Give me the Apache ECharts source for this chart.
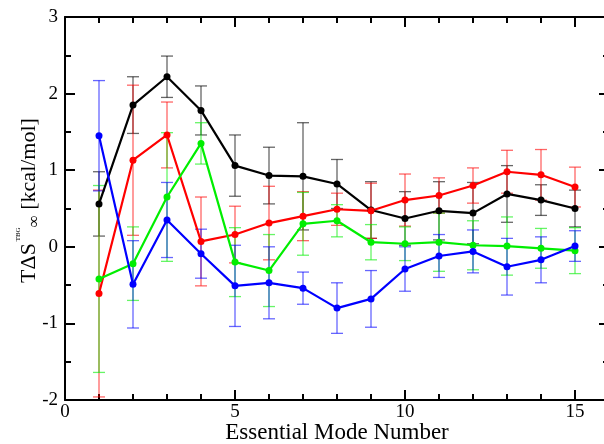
<!DOCTYPE html>
<html>
<head>
<meta charset="utf-8">
<script src="https://cdn.jsdelivr.net/npm/echarts@6/dist/echarts.min.js"></script>
<style>
  html, body { margin: 0; padding: 0; background: #fff; }
  #main { width: 604px; height: 444px; }
</style>
</head>
<body>
<div id="main"></div>
<script>
// mode numbers
var modes = [1, 2, 3, 4, 5, 6, 7, 8, 9, 10, 11, 12, 13, 14, 15];

// values and error bars (kcal/mol)
var blackVal = [0.56, 1.85, 2.22, 1.78, 1.06, 0.93, 0.92, 0.82, 0.48, 0.37, 0.47, 0.44, 0.69, 0.61, 0.50];
var blackErr = [0.42, 0.37, 0.27, 0.32, 0.40, 0.37, 0.70, 0.32, 0.37, 0.35, 0.38, 0.40, 0.37, 0.20, 0.24];

var redVal = [-0.61, 1.13, 1.46, 0.07, 0.16, 0.31, 0.40, 0.49, 0.47, 0.61, 0.67, 0.80, 0.98, 0.94, 0.78];
var redErr = [1.35, 0.98, 0.43, 0.58, 0.37, 0.48, 0.32, 0.21, 0.36, 0.34, 0.23, 0.23, 0.28, 0.33, 0.26];

var greenVal = [-0.42, -0.22, 0.65, 1.35, -0.20, -0.31, 0.30, 0.34, 0.06, 0.04, 0.06, 0.02, 0.01, -0.02, -0.05];
var greenErr = [1.22, 0.48, 0.84, 0.27, 0.45, 0.47, 0.41, 0.21, 0.23, 0.22, 0.38, 0.32, 0.38, 0.26, 0.30];

var blueVal = [1.45, -0.49, 0.35, -0.09, -0.51, -0.47, -0.54, -0.80, -0.68, -0.29, -0.12, -0.06, -0.26, -0.17, 0.01];
var blueErr = [0.72, 0.57, 0.49, 0.32, 0.53, 0.47, 0.21, 0.33, 0.37, 0.29, 0.28, 0.28, 0.37, 0.30, 0.20];

var xTicks = [0, 5, 10, 15];
var yTicks = [-2, -1, 0, 1, 2, 3];

var font = 'Liberation Serif';

function pts(vals) {
    return modes.map(function (m, i) { return [m, vals[i]]; });
}
function errs(vals, e) {
    return modes.map(function (m, i) { return [m, vals[i] - e[i], vals[i] + e[i]]; });
}

function errorSeries(vals, e, color) {
    return {
        type: 'custom',
        data: errs(vals, e),
        z: 2,
        silent: true,
        renderItem: function (params, api) {
            var x = api.value(0);
            var top = api.coord([x, api.value(2)]);
            var bot = api.coord([x, api.value(1)]);
            var w = 6;
            var st = { stroke: color, lineWidth: 1.3, opacity: 0.6 };
            return {
                type: 'group',
                children: [
                    { type: 'line', shape: { x1: top[0], y1: top[1], x2: bot[0], y2: bot[1] }, style: st },
                    { type: 'line', shape: { x1: top[0] - w, y1: top[1], x2: top[0] + w, y2: top[1] }, style: st },
                    { type: 'line', shape: { x1: bot[0] - w, y1: bot[1], x2: bot[0] + w, y2: bot[1] }, style: st }
                ]
            };
        }
    };
}

function lineSeries(vals, color) {
    return {
        type: 'line',
        data: pts(vals),
        z: 3,
        symbol: 'circle',
        symbolSize: 7,
        lineStyle: { color: color, width: 2.2 },
        itemStyle: { color: color },
        animation: false
    };
}

var colors = { black: '#000000', red: '#ff0000', green: '#00ee00', blue: '#0000ff' };

var axisCommon = {
    type: 'value',
    axisLine: { show: true, onZero: false, lineStyle: { color: '#000', width: 2 } },
    splitLine: { show: false },
    minorSplitLine: { show: false }
};

var myChart = echarts.init(document.getElementById('main'));
var option = {
    animation: false,
    backgroundColor: '#fff',
    grid: { left: 65, top: 17, width: 544, height: 383, outerBoundsMode: 'none', containLabel: false },
    xAxis: [
        Object.assign({}, axisCommon, {
            min: 0, max: 16, interval: 5,
            position: 'bottom',
            name: 'Essential Mode Number',
            nameLocation: 'middle',
            nameGap: 21,
            nameMoveOverlap: false,
            nameTextStyle: { fontFamily: font, fontSize: 23, color: '#000', padding: [0, 0, 0, 0] },
            axisTick: { inside: true, length: 10, lineStyle: { color: '#000', width: 2 } },
            minorTick: { show: true, splitNumber: 5, length: 6, lineStyle: { color: '#000', width: 2 } },
            axisLabel: {
                fontFamily: font, fontSize: 19, color: '#000', margin: 3,
                formatter: function (v) { return xTicks.indexOf(v) >= 0 ? String(v) : ''; }
            }
        }),
        Object.assign({}, axisCommon, {
            min: 0, max: 16, interval: 5,
            position: 'top',
            axisTick: { inside: true, length: 10, lineStyle: { color: '#000', width: 2 } },
            minorTick: { show: true, splitNumber: 5, length: 6, lineStyle: { color: '#000', width: 2 } },
            axisLabel: { show: false }
        })
    ],
    yAxis: [
        Object.assign({}, axisCommon, {
            min: -2, max: 3, interval: 1,
            position: 'left',
            name: '{a|TΔS}{sup| TBG}{sub|∞}{a| [kcal/mol]}',
            nameLocation: 'middle',
            nameRotate: 90,
            nameGap: 22,
            nameMoveOverlap: false,
            nameTextStyle: {
                fontFamily: font, fontSize: 22, color: '#000',
                padding: [0, 0, 0, 16],
                rich: {
                    a: { fontFamily: font, fontSize: 22, color: '#000', lineHeight: 28 },
                    sup: { fontFamily: font, fontSize: 7, color: '#000', verticalAlign: 'top', padding: [0, 0, 12, 0] },
                    sub: { fontFamily: font, fontSize: 17, color: '#000', verticalAlign: 'bottom', padding: [8, 0, 0, 0] }
                }
            },
            axisTick: { inside: true, length: 10, lineStyle: { color: '#000', width: 2 } },
            minorTick: { show: true, splitNumber: 2, length: 6, lineStyle: { color: '#000', width: 2 } },
            axisLabel: {
                fontFamily: font, fontSize: 19, color: '#000', margin: 7,
                formatter: function (v) { return yTicks.indexOf(v) >= 0 ? String(v) : ''; }
            }
        }),
        Object.assign({}, axisCommon, {
            min: -2, max: 3, interval: 1,
            position: 'right',
            axisTick: { inside: true, length: 10, lineStyle: { color: '#000', width: 2 } },
            minorTick: { show: true, splitNumber: 2, length: 6, lineStyle: { color: '#000', width: 2 } },
            axisLabel: { show: false }
        })
    ],
    series: [
        errorSeries(blackVal, blackErr, colors.black),
        errorSeries(redVal, redErr, colors.red),
        errorSeries(greenVal, greenErr, colors.green),
        errorSeries(blueVal, blueErr, colors.blue),
        lineSeries(blackVal, colors.black),
        lineSeries(redVal, colors.red),
        lineSeries(greenVal, colors.green),
        lineSeries(blueVal, colors.blue)
    ]
};
myChart.setOption(option);
</script>
</body>
</html>
